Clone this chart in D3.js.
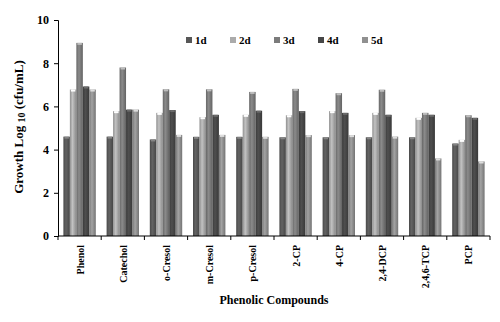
<!DOCTYPE html>
<html>
<head>
<meta charset="utf-8">
<script src="https://cdn.jsdelivr.net/npm/d3@7"></script>
<style>
  body { margin: 0; background: #fff; }
  text { font-family: "Liberation Serif", "Times New Roman", serif; font-weight: bold; }
</style>
</head>
<body>
<script>
// data
var compounds = ["Phenol", "Catechol", "o-Cresol", "m-Cresol", "p-Cresol", "2-CP", "4-CP", "2,4-DCP", "2,4,6-TCP", "PCP"];
var days = ["1d", "2d", "3d", "4d", "5d"];
var day1 = [4.6, 4.6, 4.47, 4.59, 4.59, 4.57, 4.57, 4.57, 4.57, 4.28];
var day2 = [6.78, 5.78, 5.7, 5.5, 5.61, 5.59, 5.78, 5.7, 5.47, 4.45];
var day3 = [8.94, 7.8, 6.79, 6.79, 6.67, 6.81, 6.61, 6.77, 5.7, 5.59];
var day4 = [6.92, 5.85, 5.83, 5.61, 5.8, 5.78, 5.7, 5.61, 5.61, 5.47];
var day5 = [6.78, 5.85, 4.68, 4.68, 4.59, 4.67, 4.67, 4.6, 3.59, 3.45];
var yTicks = [0, 2, 4, 6, 8, 10];

var series = [day1, day2, day3, day4, day5];
var colors = ["#575757", "#ababab", "#7b7b7b", "#464646", "#909090"];

var width = 500, height = 322;
var margin = {left: 58, right: 10, top: 20, bottom: 86};

var svg = d3.select("body").append("svg")
    .attr("width", width)
    .attr("height", height);

var defs = svg.append("defs");
colors.forEach(function(c, i) {
    var g = defs.append("linearGradient").attr("id", "grad" + i)
        .attr("x1", "0%").attr("x2", "100%").attr("y1", "0%").attr("y2", "0%");
    g.append("stop").attr("offset", "0%").attr("stop-color", d3.color(c).darker(0.5));
    g.append("stop").attr("offset", "40%").attr("stop-color", d3.color(c).brighter(0.35));
    g.append("stop").attr("offset", "100%").attr("stop-color", d3.color(c).darker(0.6));
});

var x0 = d3.scaleBand()
    .domain(compounds)
    .range([margin.left, width - margin.right])
    .paddingInner(0.25)
    .paddingOuter(0.125);

var x1 = d3.scaleBand()
    .domain(days)
    .range([0, x0.bandwidth()]);

var y = d3.scaleLinear()
    .domain([0, 10])
    .range([height - margin.bottom, margin.top]);

// bars
var groups = svg.selectAll("g.grp")
    .data(compounds)
    .join("g")
    .attr("class", "grp")
    .attr("transform", d => "translate(" + x0(d) + ",0)");

groups.selectAll("rect.bar")
    .data((d, i) => days.map((day, j) => ({day: day, j: j, v: series[j][i]})))
    .join("rect")
    .attr("class", "bar")
    .attr("x", d => x1(d.day))
    .attr("y", d => y(d.v))
    .attr("width", x1.bandwidth())
    .attr("height", d => y(0) - y(d.v))
    .attr("fill", d => "url(#grad" + d.j + ")");

// little caps on top of bars
groups.selectAll("rect.cap")
    .data((d, i) => days.map((day, j) => ({day: day, j: j, v: series[j][i]})))
    .join("rect")
    .attr("class", "cap")
    .attr("x", d => x1(d.day) + 1)
    .attr("y", d => y(d.v))
    .attr("width", x1.bandwidth() - 2)
    .attr("height", 2)
    .attr("fill", d => d3.color(colors[d.j]).brighter(1.2));

// y axis
var yAxis = svg.append("g")
    .attr("transform", "translate(" + margin.left + ",0)")
    .call(d3.axisLeft(y).tickValues(yTicks).tickSize(4).tickPadding(5));
yAxis.select(".domain").attr("stroke", "#000");
yAxis.selectAll("text").attr("font-size", 12).attr("fill", "#000");

// x axis with ticks at category boundaries
var xAxis = svg.append("g")
    .attr("transform", "translate(0," + y(0) + ")");
xAxis.append("line")
    .attr("x1", margin.left).attr("x2", width - margin.right)
    .attr("y1", 0).attr("y2", 0)
    .attr("stroke", "#000");
var bounds = compounds.map(c => x0(c) - x0.step() * x0.paddingInner() / 2);
bounds.push(width - margin.right);
xAxis.selectAll("line.tk")
    .data(bounds)
    .join("line")
    .attr("class", "tk")
    .attr("x1", d => d).attr("x2", d => d)
    .attr("y1", 0).attr("y2", 4)
    .attr("stroke", "#000");
xAxis.selectAll("text")
    .data(compounds)
    .join("text")
    .attr("transform", d => "translate(" + (x0(d) + x0.bandwidth() / 2 + 4) + ",9) rotate(-90)")
    .attr("text-anchor", "end")
    .attr("font-size", 10)
    .text(d => d);

// axis titles
svg.append("text")
    .attr("x", (margin.left + width - margin.right) / 2)
    .attr("y", 304)
    .attr("text-anchor", "middle")
    .attr("font-size", 12)
    .text("Phenolic Compounds");

var yt = svg.append("text")
    .attr("transform", "translate(23," + (y(5) - 1) + ") rotate(-90)")
    .attr("text-anchor", "middle")
    .attr("font-size", 13);
yt.append("tspan").text("Growth Log ");
yt.append("tspan").attr("font-size", 10).attr("dy", 2).text("10");
yt.append("tspan").attr("dy", -2).text(" (cfu/mL)");

// legend
var legend = svg.selectAll("g.leg")
    .data(days)
    .join("g")
    .attr("class", "leg")
    .attr("transform", (d, i) => "translate(" + (186 + i * 44) + ",40)");
legend.append("rect")
    .attr("x", 0).attr("y", -3)
    .attr("width", 6).attr("height", 6)
    .attr("fill", (d, i) => colors[i]);
legend.append("text")
    .attr("x", 9).attr("y", 4)
    .attr("font-size", 11)
    .text(d => d);
</script>
</body>
</html>
